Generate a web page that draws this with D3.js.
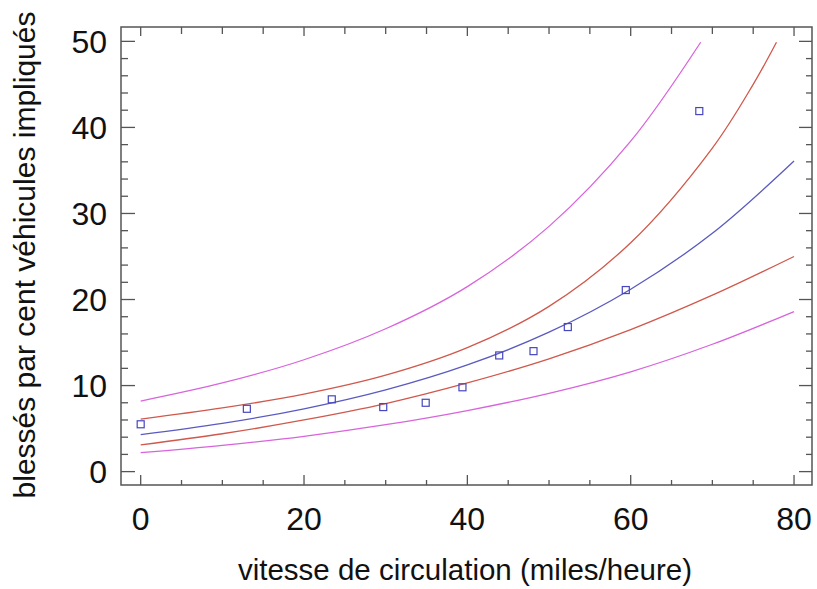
<!DOCTYPE html>
<html>
<head>
<meta charset="utf-8">
<script src="https://cdn.jsdelivr.net/npm/d3@7"></script>
<style>
  html, body { margin: 0; padding: 0; background: #fff; }
  svg { display: block; }
  text { font-family: "Liberation Sans", Arial, sans-serif; fill: #111; }
</style>
</head>
<body>
<svg id="chart" width="817" height="589"></svg>
<script>
// ---- data ----
const pointX = [0, 13.0, 23.4, 29.7, 34.9, 39.4, 43.9, 48.1, 52.3, 59.4, 68.4];
const pointY = [5.5, 7.3, 8.4, 7.5, 8.0, 9.8, 13.5, 14.0, 16.8, 21.1, 41.9];

const fitX = [0, 10, 20, 30, 40, 50, 60, 70, 80];
const fitY = [4.3, 5.6, 7.3, 9.5, 12.4, 16.2, 21.2, 27.7, 36.1];

const upperRedX = [0, 10, 20, 30, 40, 50, 60, 70, 75, 77.85];
const upperRedY = [6.1, 7.4, 9.0, 11.2, 14.4, 19.2, 26.6, 37.6, 45.0, 49.9];

const lowerRedX = [0, 10, 20, 30, 40, 50, 60, 70, 80];
const lowerRedY = [3.1, 4.4, 6.0, 7.9, 10.3, 13.1, 16.5, 20.5, 25.0];

const upperMagX = [0, 10, 20, 30, 40, 50, 60, 68.57];
const upperMagY = [8.2, 10.3, 13.0, 16.6, 21.5, 28.5, 38.4, 49.9];

const lowerMagX = [0, 10, 20, 30, 40, 50, 60, 70, 80];
const lowerMagY = [2.2, 3.05, 4.1, 5.45, 7.1, 9.1, 11.6, 14.8, 18.6];

const xTicks = [0, 20, 40, 60, 80];
const yTicks = [0, 10, 20, 30, 40, 50];
const xTitle = "vitesse de circulation (miles/heure)";
const yTitle = "blessés par cent véhicules impliqués";

// ---- layout ----
const L = 121, R = 812, T = 27, B = 485;
const svg = d3.select("#chart");

const x = d3.scaleLinear().domain([-2.41, 82.2]).range([L, R]);
const y = d3.scaleLinear().domain([-1.556, 51.67]).range([B, T]);

const frameColor = "#555";

// frame
svg.append("rect")
  .attr("x", L).attr("y", T).attr("width", R - L).attr("height", B - T)
  .attr("fill", "none").attr("stroke", frameColor).attr("stroke-width", 1.5);

// ticks (inward on all four sides)
const xMinor = d3.range(0, 81, 5);
const yMinor = d3.range(0, 51, 2);
const tg = svg.append("g").attr("stroke", frameColor).attr("stroke-width", 1.3);
xMinor.forEach(v => {
  const major = v % 20 === 0;
  const px = x(v);
  tg.append("line").attr("x1", px).attr("x2", px).attr("y1", B).attr("y2", B - (major ? 10 : 5));
  tg.append("line").attr("x1", px).attr("x2", px).attr("y1", T).attr("y2", T + (major ? 9 : 7));
});
yMinor.forEach(v => {
  const major = v % 10 === 0;
  const py = y(v);
  tg.append("line").attr("y1", py).attr("y2", py).attr("x1", L).attr("x2", L + (major ? 14 : 7));
  tg.append("line").attr("y1", py).attr("y2", py).attr("x1", R).attr("x2", R - (major ? 13 : 6));
});

// tick labels
svg.append("g").selectAll("text").data(xTicks).join("text")
  .attr("x", d => x(d)).attr("y", 530)
  .attr("text-anchor", "middle").attr("font-size", 32)
  .text(d => d);
svg.append("g").selectAll("text").data(yTicks).join("text")
  .attr("x", 107).attr("y", d => y(d)).attr("dy", "0.36em")
  .attr("text-anchor", "end").attr("font-size", 32)
  .text(d => d);

// axis titles
svg.append("text")
  .attr("x", 465).attr("y", 580)
  .attr("text-anchor", "middle").attr("font-size", 29.5)
  .text(xTitle);
svg.append("text")
  .attr("transform", "translate(35,255) rotate(-90)")
  .attr("text-anchor", "middle").attr("font-size", 30)
  .text(yTitle);

// curves
const line = d3.line().x(d => x(d[0])).y(d => y(d[1])).curve(d3.curveCatmullRom.alpha(0.5));
const curves = [
  { xs: upperMagX, ys: upperMagY, color: "#d864dc" },
  { xs: lowerMagX, ys: lowerMagY, color: "#d864dc" },
  { xs: upperRedX, ys: upperRedY, color: "#d0584c" },
  { xs: lowerRedX, ys: lowerRedY, color: "#d0584c" },
  { xs: fitX, ys: fitY, color: "#5a5ac0" }
];
const cg = svg.append("g").attr("fill", "none");
curves.forEach(c => {
  cg.append("path")
    .datum(c.xs.map((v, i) => [v, c.ys[i]]))
    .attr("d", line)
    .attr("stroke", c.color).attr("stroke-width", 1.3);
});

// data points (open squares)
const s = 7;
svg.append("g").selectAll("rect").data(pointX.map((v, i) => [v, pointY[i]])).join("rect")
  .attr("x", d => x(d[0]) - s / 2).attr("y", d => y(d[1]) - s / 2)
  .attr("width", s).attr("height", s)
  .attr("fill", "none").attr("stroke", "#4646c0").attr("stroke-width", 1.2);
</script>
</body>
</html>
